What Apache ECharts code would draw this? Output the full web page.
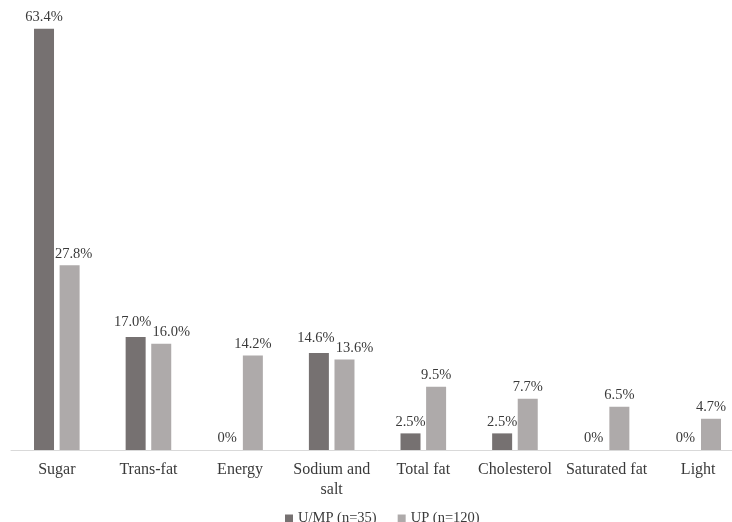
<!DOCTYPE html>
<html>
<head>
<meta charset="utf-8">
<script src="https://cdn.jsdelivr.net/npm/echarts@6/dist/echarts.min.js"></script>
<style>html,body{margin:0;padding:0;background:#fff;overflow:hidden}#c{width:744px;height:522px}</style>
</head>
<body>
<div id="c"></div>
<script>
const categories = ['Sugar', 'Trans-fat', 'Energy', 'Sodium and salt', 'Total fat', 'Cholesterol', 'Saturated fat', 'Light'];
const seriesNames = ['U/MP (n=35)', 'UP (n=120)'];
const umpValues = [63.4, 17.0, 0, 14.6, 2.5, 2.5, 0, 0];
const upValues = [27.8, 16.0, 14.2, 13.6, 9.5, 7.7, 6.5, 4.7];

const chart = echarts.init(document.getElementById('c'), null, {renderer: 'canvas'});
const font = '"Liberation Serif", "DejaVu Serif", serif';
const fmtLabel = p => (p.value === 0 ? '0' : p.value.toFixed(1)) + '%';
// when the two labels of a pair would collide, push them apart like the source does
const close = i => umpValues[i] > 0 && Math.abs(umpValues[i] - upValues[i]) < 3;
chart.setOption({
  animation: false,
  backgroundColor: '#ffffff',
  textStyle: {fontFamily: font},
  grid: {left: 11, top: 18, right: 0, height: 432, containLabel: false},
  legend: {
    data: seriesNames,
    left: 280, top: 506,
    itemWidth: 8, itemHeight: 8, itemGap: 21,
    icon: 'rect',
    textStyle: {fontFamily: font, fontSize: 14.5, color: '#3a3a3a'}
  },
  xAxis: {
    type: 'category',
    data: categories,
    axisLine: {lineStyle: {color: '#d9d9d9', width: 1}},
    axisTick: {show: false},
    axisLabel: {
      fontFamily: font, fontSize: 16, color: '#3a3a3a', margin: 10, lineHeight: 20,
      interval: 0,
      formatter: v => v.replace('Sodium and ', 'Sodium and\n')
    }
  },
  yAxis: {type: 'value', min: 0, max: 65, show: false, splitLine: {show: false}},
  series: [
    {
      name: seriesNames[0], type: 'bar', data: umpValues,
      barWidth: 20, barGap: '28%',
      itemStyle: {color: '#767171'},
      label: {show: true, position: 'top', distance: 4, formatter: fmtLabel,
        fontFamily: font, fontSize: 14.5, color: '#3a3a3a'},
      labelLayout: p => close(p.dataIndex) ? {dx: -3, dy: -3} : {}
    },
    {
      name: seriesNames[1], type: 'bar', data: upValues,
      barWidth: 20, barGap: '28%',
      itemStyle: {color: '#aeaaaa'},
      label: {show: true, position: 'top', distance: 4, formatter: fmtLabel,
        fontFamily: font, fontSize: 14.5, color: '#3a3a3a'},
      labelLayout: p => close(p.dataIndex) ? {dx: 10} : (umpValues[p.dataIndex] > upValues[p.dataIndex] ? {dx: 4} : {})
    }
  ]
});
</script>
</body>
</html>
